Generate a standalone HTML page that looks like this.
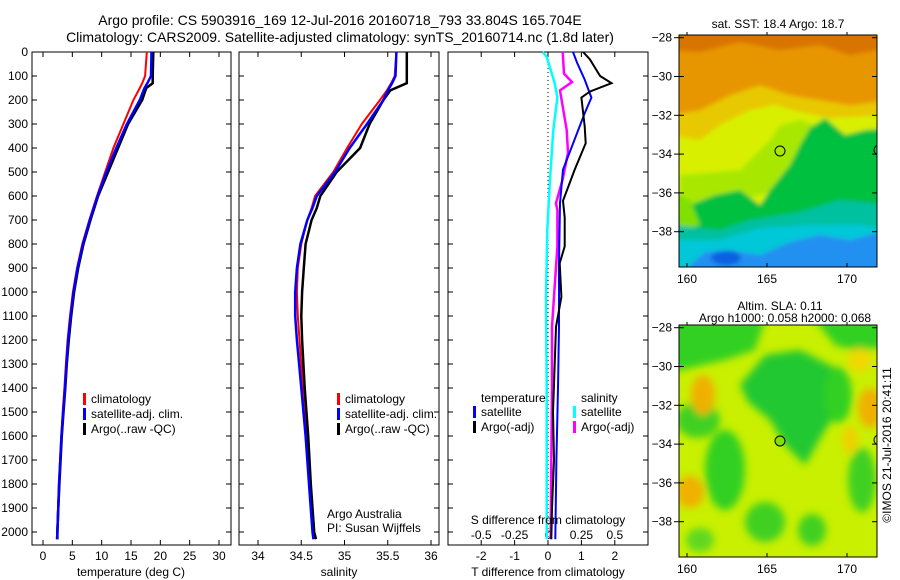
<!DOCTYPE html>
<html><head><meta charset="utf-8"><style>
body{margin:0;background:#fff}
svg{display:block;font-family:"Liberation Sans",sans-serif}
</style></head><body>
<svg id="c" width="900" height="580" xmlns="http://www.w3.org/2000/svg">
<g font-size="14" text-anchor="middle">
<text x="340" y="25">Argo profile: CS 5903916_169 12-Jul-2016 20160718_793 33.804S 165.704E</text>
<text x="340" y="42">Climatology: CARS2009. Satellite-adjusted climatology: synTS_20160714.nc (1.8d later)</text>
</g>
<g id="maps">
<defs>
<clipPath id="m1"><rect x="679" y="35" width="198" height="232"/></clipPath>
<clipPath id="m2"><rect x="679" y="325" width="198" height="232"/></clipPath>
<filter id="bl" x="-20%" y="-20%" width="140%" height="140%"><feGaussianBlur stdDeviation="4"/></filter>
<filter id="bl2" x="-20%" y="-20%" width="140%" height="140%"><feGaussianBlur stdDeviation="2"/></filter>
</defs>
<g clip-path="url(#m1)">
<rect x="679" y="35" width="198" height="232" fill="#e89600"/>
<g filter="url(#bl2)">
<path d="M670,30 H890 V48 L850,55 L820,45 L780,50 L740,42 L700,52 L670,50Z" fill="#d87400"/>
<path d="M670,115 L700,110 L730,95 L760,85 L790,95 L820,100 L850,105 L890,100 V260 H670Z" fill="#e8c800"/>
<path d="M670,135 L700,140 L720,125 L750,110 L775,105 L800,112 L830,118 L890,115 V260 H670Z" fill="#d8f000"/>
<path d="M680,175 L740,170 L770,140 L780,125 L800,120 L830,130 L820,180 L740,200 L680,205Z" fill="#a8e800"/>
<path d="M670,200 L690,205 L715,195 L740,190 L760,205 L770,190 L790,165 L800,145 L810,128 L825,118 L845,135 L865,130 L890,128 V270 H670Z" fill="#00c040"/>
<path d="M670,190 L690,200 L700,225 L680,230Z" fill="#80e000"/>
<path d="M670,225 L720,230 L750,220 L800,212 L840,200 L890,205 V270 H670Z" fill="#00c0a0"/>
<path d="M670,240 L720,240 L760,228 L810,225 L860,225 L890,230 V270 H670Z" fill="#00c8d8"/>
<path d="M690,265 L705,252 L730,250 L760,255 L790,242 L820,235 L850,240 L880,232 V275 H690Z" fill="#2090f0"/>
<ellipse cx="726" cy="258" rx="15" ry="7" fill="#1060e0"/>
</g>
<circle cx="780" cy="151" r="5" fill="none" stroke="#000"/>
<path d="M877,145 q-6,5 0,10" fill="none" stroke="#000"/>
</g>
<rect x="679" y="35" width="198" height="232" fill="none" stroke="#000"/>
<g clip-path="url(#m2)">
<rect x="679" y="325" width="198" height="232" fill="#c8f000"/>
<g filter="url(#bl)">
<path d="M670,320 H765 L755,350 L725,360 L690,368 L670,372Z" fill="#30d020"/>
<path d="M815,320 H890 V345 L860,352 L835,345Z" fill="#30d020"/>
<path d="M740,385 L765,355 L800,350 L835,368 L845,400 L825,430 L805,465 L785,445 L770,420 L748,402Z" fill="#20c830"/>
<ellipse cx="725" cy="470" rx="20" ry="40" fill="#30d020"/>
<ellipse cx="838" cy="395" rx="14" ry="28" fill="#30d020"/>
<ellipse cx="698" cy="420" rx="22" ry="18" fill="#40d020"/>
<ellipse cx="765" cy="522" rx="20" ry="20" fill="#40d020"/>
<ellipse cx="862" cy="480" rx="14" ry="32" fill="#40d020"/>
<ellipse cx="812" cy="530" rx="14" ry="16" fill="#40d020"/>
<ellipse cx="700" cy="540" rx="14" ry="12" fill="#60d820"/>
<ellipse cx="703" cy="395" rx="12" ry="20" fill="#f0b000"/>
<ellipse cx="690" cy="492" rx="14" ry="16" fill="#f0b000"/>
<ellipse cx="870" cy="408" rx="12" ry="20" fill="#f0b000"/>
<ellipse cx="850" cy="440" rx="8" ry="14" fill="#f0d000"/>
<ellipse cx="860" cy="360" rx="12" ry="12" fill="#f0d800"/>
</g>
<circle cx="780" cy="441" r="5" fill="#80e000" stroke="#000"/>
<path d="M877,435 q-6,5 0,10" fill="none" stroke="#000"/>
</g>
<rect x="679" y="325" width="198" height="232" fill="none" stroke="#000"/>
<g font-size="12" text-anchor="middle">
<text x="778" y="28">sat. SST: 18.4  Argo: 18.7</text>
<text x="780" y="310">Altim. SLA: 0.11</text>
<text x="785" y="322">Argo h1000: 0.058 h2000: 0.068</text>
<text transform="translate(891,445) rotate(-90)">©IMOS 21-Jul-2016 20:41:11</text>
</g>
<g id="mapticks" font-size="12"></g>
</g>
<g id="plots"></g>
</svg>
<script>
// ---- data ----
const depthT = [0,100,130,150,200,300,400,500,600,700,800,900,1000,1100,1200,1300,1400,1500,1600,1700,1800,1900,2000,2030];
const tempClim = [17.7,17.4,16.9,16.5,15.4,13.7,12.0,10.6,9.2,7.9,6.7,5.8,5.1,4.6,4.2,3.9,3.65,3.35,3.1,2.9,2.7,2.55,2.4,2.35];
const tempSat  = [18.5,18.4,17.8,17.3,16.5,14.3,12.5,10.8,9.3,8.0,6.8,5.9,5.2,4.7,4.3,4.0,3.75,3.45,3.15,2.95,2.75,2.6,2.45,2.4];
const tempArgo = [18.8,18.7,18.7,17.6,16.9,14.5,12.8,11.1,9.4,8.1,6.9,6.0,5.3,4.8,4.4,4.05,3.8,3.5,3.2,3.0,2.8,2.6,2.45,2.45];
const depthS = [0,100,130,160,200,300,400,500,600,650,700,800,900,1000,1100,1200,1400,1600,1800,2000,2030];
const salClim = [35.6,35.58,35.54,35.49,35.41,35.20,35.03,34.87,34.66,34.62,34.57,34.50,34.46,34.45,34.46,34.48,34.52,34.56,34.60,34.64,34.65];
const salSat  = [35.6,35.59,35.55,35.50,35.45,35.26,35.06,34.89,34.68,34.63,34.57,34.49,34.45,34.43,34.43,34.45,34.50,34.55,34.59,34.63,34.64];
const salArgo = [35.72,35.72,35.72,35.53,35.45,35.29,35.18,34.91,34.72,34.68,34.62,34.55,34.53,34.51,34.50,34.51,34.54,34.58,34.61,34.65,34.67];
const dTArgoDepth = [0,30,100,130,165,190,310,380,490,620,690,810,880,1020,1145,1300,1500,1700,1900,2030];
const dTArgo = [1.05,1.25,1.56,1.9,1.25,1.0,1.1,1.13,0.8,0.45,0.5,0.5,0.35,0.4,0.24,0.2,0.15,0.18,0.12,0.1];
const dTSatDepth = [0,45,115,190,255,370,490,630,880,1145,1400,1700,2030];
const dTSat = [0.75,0.87,1.1,1.3,1.1,0.78,0.45,0.36,0.33,0.33,0.3,0.25,0.22];
const dSArgoDepth = [0,90,125,160,325,420,530,630,660,810,1020,1145,1400,1700,2030];
const dSArgo = [0.11,0.12,0.18,0.09,0.14,0.15,0.11,0.06,0.07,0.07,0.045,0.03,0.03,0.025,0.02];
const dSSatDepth = [0,20,130,190,325,530,740,1020,1400,1700,2030];
const dSSat = [-0.04,-0.01,0.05,0.07,0.04,0.015,-0.005,-0.015,-0.01,-0.01,-0.01];
const depthTicks = [0,100,200,300,400,500,600,700,800,900,1000,1100,1200,1300,1400,1500,1600,1700,1800,1900,2000];
const tempTicks = [0,5,10,15,20,25,30];
const salTicks = [34,34.5,35,35.5,36];
const dTTicks = [-2,-1,0,1,2];
const dSTicks = [-0.5,-0.25,0,0.25,0.5];
const dSTickLabels = ["-0.5","-0.25","0","0.25","0.5"];
const latTicks = [-28,-30,-32,-34,-36,-38];
const lonTicks = [160,165,170];

const NS="http://www.w3.org/2000/svg";
const plots=document.getElementById('plots');
function mk(tag,attrs,parent,text){const e=document.createElementNS(NS,tag);for(const k in attrs)e.setAttribute(k,attrs[k]);if(text!==undefined)e.textContent=text;(parent||plots).appendChild(e);return e;}
const Y0=52,Y1=545;
const yD=d=>Y0+d*0.24;
const xT=v=>43+v*5.867;
const xS=v=>258+(v-34)*86.5;
const xDT=v=>548+v*33.4;
const xDS=v=>548+v*133.6;

function frame(x0,x1,name){
  const r=mk('rect',{x:x0,y:Y0,width:x1-x0,height:Y1-Y0,fill:'none',stroke:'#000'});
  
  
  depthTicks.forEach(d=>{mk('line',{x1:x0,x2:x0+5,y1:yD(d),y2:yD(d),stroke:'#000'});mk('line',{x1:x1-5,x2:x1,y1:yD(d),y2:yD(d),stroke:'#000'});});
}
function xticks(ticks,fx,labels,y,name){
  ticks.forEach((t,i)=>{const x=fx(t);
    mk('line',{x1:x,x2:x,y1:Y1-5,y2:Y1,stroke:'#000'});mk('line',{x1:x,x2:x,y1:Y0,y2:Y0+5,stroke:'#000'});
    const tx=mk('text',{x:x,y:y,'font-size':12,'text-anchor':'middle'},plots,labels?labels[i]:String(t));
    
    
  });
}
function line(depths,vals,fx,color,w,name){
  const p=mk('polyline',{points:depths.map((d,i)=>fx(vals[i]).toFixed(1)+','+yD(d).toFixed(1)).join(' '),fill:'none',stroke:color,'stroke-width':w});
  
  
}
function label(x,y,t,name,anchor){const e=mk('text',{x:x,y:y,'font-size':12,'text-anchor':anchor||'start'},plots,t);
  
  }
function legendEntry(x,y,color,t,name){
  mk('rect',{x:x,y:y-10,width:3,height:12,fill:color});
  const e=mk('text',{x:x+8,y:y,'font-size':12},plots,t);
  
  
}

depthTicks.forEach(d=>{const e=mk('text',{x:28,y:yD(d)+4,'font-size':12,'text-anchor':'end'},plots,String(d));
  
  });

// panel 1
frame(32,231,'temperature-panel');
xticks(tempTicks,xT,null,560,'temperature');
line(depthT,tempClim,xT,'#f00',2,'temp-climatology-line');
line(depthT,tempArgo,xT,'#000',2.5,'temp-argo-line');
line(depthT,tempSat,xT,'#00f',2.5,'temp-satellite-line');
label(131,576,'temperature (deg C)','temperature-axis-title','middle');
legendEntry(83,403,'#f00','climatology','legend-climatology');
legendEntry(83,418,'#00f','satellite-adj. clim.','legend-satellite');
legendEntry(83,433,'#000','Argo(..raw -QC)','legend-argo');

// panel 2
frame(239,439,'salinity-panel');
xticks(salTicks,xS,null,560,'salinity');
line(depthS,salClim,xS,'#f00',2,'sal-climatology-line');
line(depthS,salArgo,xS,'#000',2.5,'sal-argo-line');
line(depthS,salSat,xS,'#00f',2.5,'sal-satellite-line');
label(339,576,'salinity','salinity-axis-title','middle');
legendEntry(337,403,'#f00','climatology','legend-climatology-2');
legendEntry(337,418,'#00f','satellite-adj. clim.','legend-satellite-2');
legendEntry(337,433,'#000','Argo(..raw -QC)','legend-argo-2');
label(327,518,'Argo Australia','institution-label');
label(327,532,'PI: Susan Wijffels','pi-label');

// panel 3
frame(448,648,'difference-panel');
xticks(dTTicks,xDT,null,560,'t-difference');
dSTicks.forEach((t,i)=>{const e=mk('text',{x:xDS(t),y:539,'font-size':12,'text-anchor':'middle'},plots,dSTickLabels[i]);
  
  });
const z=mk('line',{x1:xDT(0),x2:xDT(0),y1:Y0,y2:Y1,stroke:'#000','stroke-dasharray':'1,3'});


line(dSSatDepth,dSSat,xDS,'#0ff',2.5,'s-diff-satellite-line');
line(dSArgoDepth,dSArgo,xDS,'#f0f',2.5,'s-diff-argo-line');
line(dTSatDepth,dTSat,xDT,'#00f',2,'t-diff-satellite-line');
line(dTArgoDepth,dTArgo,xDT,'#000',2,'t-diff-argo-line');
label(548,576,'T difference from climatology','t-difference-axis-title','middle');
label(548,524,'S difference from climatology','s-difference-axis-title','middle');
label(481,402,'temperature','legend-temperature-header');
label(581,402,'salinity','legend-salinity-header');
legendEntry(473,416,'#00f','satellite','legend-t-satellite');
legendEntry(473,431,'#000','Argo(-adj)','legend-t-argo');
legendEntry(573,416,'#0ff','satellite','legend-s-satellite');
legendEntry(573,431,'#f0f','Argo(-adj)','legend-s-argo');

// map ticks
const mt=document.getElementById('mapticks');
[[35,267],[325,557]].forEach(([top,bot],mi)=>{
  const yL=v=>top+2.7+(-28-v)*19.4;
  const xL=v=>687+(v-160)*16;
  latTicks.forEach(v=>{const y=yL(v);
    mk('line',{x1:679,x2:684,y1:y,y2:y,stroke:'#000'},mt);mk('line',{x1:872,x2:877,y1:y,y2:y,stroke:'#000'},mt);
    mk('line',{x1:674,x2:679,y1:y,y2:y,stroke:'#000'},mt);
    const e=mk('text',{x:672,y:y+4,'text-anchor':'end'},mt,String(v).replace('-','\u2212'));
    
    });
  lonTicks.forEach(v=>{const x=xL(v);
    mk('line',{x1:x,x2:x,y1:top,y2:top-3,stroke:'#000'},mt);mk('line',{x1:x,x2:x,y1:bot,y2:bot-4,stroke:'#000'},mt);
    const e=mk('text',{x:x,y:bot+16,'text-anchor':'middle'},mt,String(v));
    
    });
});
</script>
</body></html>
